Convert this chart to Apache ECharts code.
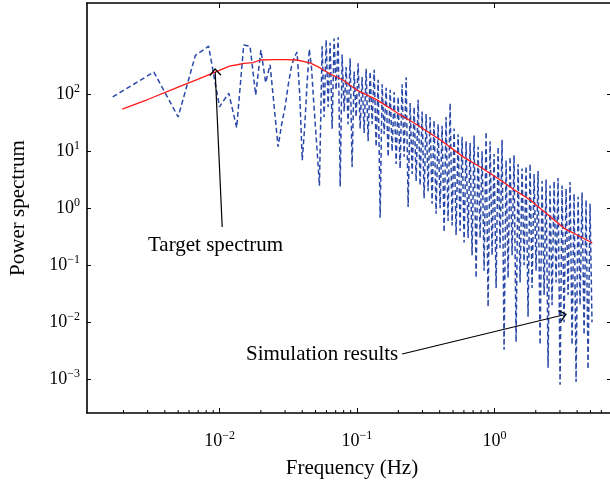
<!DOCTYPE html>
<html><head><meta charset="utf-8">
<script src="https://cdn.jsdelivr.net/npm/echarts@6/dist/echarts.min.js"></script>
<style>html,body{margin:0;padding:0;background:#fff}#c{width:610px;height:485px}</style>
</head><body><div id="c"></div>
<script>
// Target spectrum (red line)
const targetFreq = [0.00196,0.003,0.005,0.007,0.0093,0.0118,0.0135,0.015,0.0175,0.0198,0.025,0.03,0.0367,0.046,0.054,0.064,0.079,0.1,0.141,0.197,0.275,0.405,0.597,0.8,1.05,1.4,1.82,2.63,3.2,4,5.16];
const targetPower = [55,81,134,185,246,313,330,350,360,400,405,405,400,352,290,227,178,118,79,47,29,15.8,7.9,5.2,3.4,2.1,1.4,0.67,0.45,0.34,0.246];

// Simulation results (blue dashed line)
const simFreq = [
0.00167,0.00333,0.005,0.00667,0.00833,0.01,0.01167,0.01333,0.015,0.01667,0.01833,0.02,0.02167,0.02333,0.025,0.02667,
0.02833,0.03,0.03167,0.03333,0.035,0.03667,0.03833,0.04,0.04167,0.04333,0.045,0.04667,0.04833,0.05,0.05167,0.05333,
0.0558,0.0577,0.0597,0.0617,0.0638,0.066,0.0682,0.0705,0.073,0.0755,0.078,0.0807,0.0834,0.0862,0.0892,0.0922,
0.0954,0.0986,0.102,0.1055,0.109,0.1128,0.1166,0.1206,0.1247,0.129,0.1334,0.1379,0.1426,0.1475,0.1525,0.1577,
0.163,0.1686,0.1744,0.1803,0.1865,0.1928,0.1994,0.206,0.213,0.2204,0.228,0.2357,0.2438,0.252,0.2607,0.2695,
0.2787,0.288,0.298,0.308,0.3186,0.3294,0.3406,0.352,0.364,0.3766,0.3894,0.4027,0.4164,0.4306,0.445,0.4603,
0.4762,0.4924,0.509,0.5265,0.5445,0.563,0.582,0.602,0.6225,0.6437,0.6656,0.688,0.7117,0.736,0.761,0.787,
0.8137,0.8415,0.87,0.9,0.9304,0.962,0.995,1.029,1.064,1.1,1.1375,1.176,1.216,1.258,1.3,1.345,
1.39,1.438,1.487,1.538,1.59,1.644,1.7,1.758,1.818,1.88,1.944,2.01,2.079,2.15,2.223,2.3,
2.377,2.458,2.54,2.628,2.718,2.81,2.906,3.005,3.107,3.213,3.323,3.436,3.553,3.674,3.8,3.93,
4.063,4.2,4.344,4.492,4.645,4.803,4.966,5.13];
const simPower = [
90,246,40,480,700,60,105,26,730,700,97,600,160,330,60,12,
30,60,150,300,450,550,100,7,27,150,620,300,80,25,8,2.5,
700,40,900,60,800,25,950,120,1000,2.4,500,50,300,30,430,5.3,
250,40,350,25,200,21,280,15,250,30,270,12,180,0.68,150,20,
130,8,120,10,110,6,90,5,150,8,200,1.05,70,4,60,3,
80,2.5,50,1.5,45,2,40,1.2,35,0.8,30,1,28,0.38,40,0.6,
70,0.5,25,0.34,20,0.4,18,0.25,15,0.3,14,0.15,19,0.06,12,0.3,
10,0.08,22,0.0186,15,0.15,9,0.04,12,0.2,16,0.0033,7,0.06,8,0.15,
8.5,0.0045,6,0.05,5,0.1,5.5,0.0125,6,0.04,4,0.08,4.5,0.004,3,0.03,
3.2,0.0016,2.5,0.02,3,0.05,3.4,0.0008,2.5,0.01,2.2,0.03,2.9,0.004,1.8,0.0009,
1.6,0.02,1.9,0.006,1.4,0.0015,1.2,0.01];

// Axis ranges and ticks
const xMin = 0.001086, xMax = 7.8;
const yMin = 0.000256, yMax = 4000;
const xMajorTicks = [0.01, 0.1, 1];
const yMajorTicks = [0.001, 0.01, 0.1, 1, 10, 100];
const minorTickFreq = [0.002,0.003,0.004,0.005,0.006,0.007,0.008,0.009,0.02,0.03,0.04,0.05,0.06,0.07,0.08,0.09,0.2,0.3,0.4,0.5,0.6,0.7,0.8,0.9,2,3,4,5,6,7];

// Annotation arrows (data coordinates)
const targetArrow = [[0.01046, 0.47], [0.0093, 246]];
const simArrow = [[0.2133, 0.00278], [3.16, 0.0134]];

const FONT = '"Liberation Serif", "DejaVu Serif", serif';
function sup(v) {
  const e = Math.round(Math.log10(v));
  return '{b|10}{s|' + (e < 0 ? '\u2212' + (-e) : e) + '}';
}
const rich = {
  b: {fontFamily: FONT, fontSize: 18, color: '#000', lineHeight: 22},
  s: {fontFamily: FONT, fontSize: 12, color: '#000', lineHeight: 12, verticalAlign: 'top'}
};
const axisLine = {show: true, lineStyle: {color: '#000', width: 1.6}};
const xTick = {show: true, inside: true, length: 5, customValues: xMajorTicks, lineStyle: {color: '#000', width: 1}};
const yTick = {show: true, inside: true, length: 4, customValues: yMajorTicks, lineStyle: {color: '#000', width: 1}};
const chevron = 'path://M0,0 L10,9 L8.6,10.5 L0,2.6 L-8.6,10.5 L-10,9 Z';

const simData = simFreq.map((f, i) => [f, simPower[i]]);
const targetData = targetFreq.map((f, i) => [f, targetPower[i]]);

const chart = echarts.init(document.getElementById('c'), null, {renderer: 'canvas'});
chart.setOption({
  backgroundColor: '#fff',
  animation: false,
  grid: {left: 87, top: 3, width: 530, height: 410, containLabel: false, outerBoundsMode: 'none'},
  xAxis: [
    {type: 'log', min: xMin, max: xMax, position: 'bottom',
     axisLine, axisTick: xTick, splitLine: {show: false}, minorTick: {show: false},
     axisLabel: {formatter: sup, rich, margin: 17, customValues: xMajorTicks},
     name: 'Frequency (Hz)', nameLocation: 'middle', nameGap: 45,
     nameTextStyle: {fontFamily: FONT, fontSize: 21, color: '#000'}},
    {type: 'log', min: xMin, max: xMax, position: 'top',
     axisLine, axisTick: xTick, splitLine: {show: false}, axisLabel: {show: false}}
  ],
  yAxis: [
    {type: 'log', min: yMin, max: yMax, position: 'left',
     axisLine, axisTick: yTick, splitLine: {show: false},
     axisLabel: {formatter: sup, rich, margin: 7, customValues: yMajorTicks},
     name: 'Power spectrum', nameLocation: 'middle', nameGap: 58,
     nameTextStyle: {fontFamily: FONT, fontSize: 21, color: '#000'}},
    {type: 'log', min: yMin, max: yMax, position: 'right', offset: -6,
     axisLine, axisTick: yTick, splitLine: {show: false}, axisLabel: {show: false}}
  ],
  series: [
    {type: 'line', name: 'Simulation results', data: simData, symbol: 'none', smooth: false,
     lineStyle: {color: '#2a48a8', width: 1.5, type: [5, 3]}, z: 2,
     markLine: {silent: true, symbol: ['none', chevron], symbolSize: [12, 8], label: {show: false},
       lineStyle: {color: '#000', width: 1.2, type: 'solid'},
       data: [[{coord: simArrow[0]}, {coord: simArrow[1]}]]}},
    {type: 'line', name: 'Target spectrum', data: targetData, symbol: 'none', smooth: false,
     lineStyle: {color: '#ff1a1a', width: 1.3}, z: 3,
     markLine: {silent: true, symbol: ['none', chevron], symbolSize: [12, 8], label: {show: false},
       lineStyle: {color: '#000', width: 1.2, type: 'solid'},
       data: [[{coord: targetArrow[0]}, {coord: targetArrow[1]}]]}},
    {type: 'custom', silent: true, clip: false, z: 5,
     data: minorTickFreq.map(f => [f, yMin]),
     renderItem: (params, api) => {
       const p = api.coord([api.value(0), api.value(1)]);
       return {type: 'line', shape: {x1: p[0], y1: p[1], x2: p[0], y2: p[1] - 3},
               style: {stroke: '#000', lineWidth: 1}};
     }}
  ],
  graphic: [
    {type: 'text', x: 148, y: 245.5, style: {text: 'Target spectrum', font: '21px ' + FONT, fill: '#000', verticalAlign: 'middle'}},
    {type: 'text', x: 246, y: 354.5, style: {text: 'Simulation results', font: '21px ' + FONT, fill: '#000', verticalAlign: 'middle'}}
  ]
});
</script>
</body></html>
